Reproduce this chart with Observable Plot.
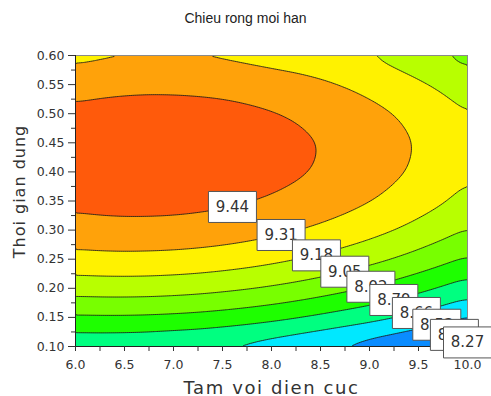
<!DOCTYPE html>
<html>
<head>
<meta charset="utf-8">
<script src="https://cdn.jsdelivr.net/npm/d3@7"></script>
<script src="https://cdn.jsdelivr.net/npm/@observablehq/plot@0.6"></script>
<style>
  body { margin: 0; background: #fff; }
  #title { width: 491px; height: 30px; box-sizing: border-box; padding-top: 10px; text-align: center;
           font: 14px "Liberation Sans", Arial, sans-serif; line-height: 16px; color: #222; }
</style>
</head>
<body>
<div id="title">Chieu rong moi han</div>
<div id="chart"></div>
<script>
// Grid columns (Tam voi dien cuc) and rows (Thoi gian dung)
const xGrid = [6.00, 6.25, 6.50, 6.75, 7.00, 7.25, 7.50, 7.75, 8.00, 8.25, 8.50, 8.75, 9.00, 9.25, 9.50, 9.75, 10.00];
const yGrid = [0.10, 0.15, 0.20, 0.25, 0.30, 0.35, 0.40, 0.45, 0.50, 0.55, 0.60];

// Chieu rong moi han values, one row per yGrid value
const z010 = [8.681, 8.683, 8.680, 8.674, 8.660, 8.649, 8.631, 8.609, 8.583, 8.555, 8.525, 8.491, 8.455, 8.421, 8.383, 8.335, 8.250];
const z015 = [8.905, 8.908, 8.908, 8.904, 8.896, 8.885, 8.869, 8.850, 8.827, 8.799, 8.768, 8.736, 8.705, 8.667, 8.626, 8.580, 8.531];
const z020 = [9.107, 9.112, 9.113, 9.111, 9.104, 9.094, 9.079, 9.061, 9.039, 9.014, 8.984, 8.950, 8.913, 8.872, 8.826, 8.777, 8.725];
const z025 = [9.269, 9.276, 9.278, 9.276, 9.271, 9.262, 9.249, 9.232, 9.211, 9.186, 9.158, 9.125, 9.089, 9.049, 9.005, 8.957, 8.906];
const z030 = [9.391, 9.398, 9.402, 9.401, 9.397, 9.389, 9.377, 9.361, 9.341, 9.318, 9.290, 9.259, 9.224, 9.185, 9.142, 9.096, 9.045];
const z035 = [9.472, 9.481, 9.485, 9.485, 9.482, 9.475, 9.464, 9.449, 9.430, 9.408, 9.381, 9.351, 9.317, 9.279, 9.237, 9.192, 9.142];
const z040 = [9.513, 9.522, 9.527, 9.529, 9.526, 9.520, 9.510, 9.496, 9.478, 9.457, 9.431, 9.402, 9.369, 9.332, 9.291, 9.246, 9.198];
const z045 = [9.513, 9.523, 9.529, 9.531, 9.530, 9.524, 9.515, 9.502, 9.485, 9.464, 9.439, 9.411, 9.379, 9.343, 9.303, 9.259, 9.211];
const z050 = [9.472, 9.483, 9.490, 9.493, 9.492, 9.487, 9.479, 9.466, 9.450, 9.430, 9.406, 9.379, 9.347, 9.312, 9.273, 9.230, 9.183];
const z055 = [9.391, 9.402, 9.410, 9.414, 9.413, 9.409, 9.402, 9.390, 9.374, 9.355, 9.332, 9.305, 9.274, 9.239, 9.201, 9.158, 9.112];
const z060 = [9.269, 9.281, 9.289, 9.294, 9.294, 9.291, 9.283, 9.272, 9.257, 9.245, 9.228, 9.201, 9.171, 9.137, 9.093, 9.045, 9.000];
const zRows = [z010, z015, z020, z025, z030, z035, z040, z045, z050, z055, z060];

// Contour levels (as labelled) and band colours (lowest band first)
const levels = [9.44, 9.31, 9.18, 9.05, 8.92, 8.79, 8.66, 8.53, 8.40, 8.27];
const levelLabels = ["9.44", "9.31", "9.18", "9.05", "8.92", "8.79", "8.66", "8.53", "8.40", "8.27"];
const bandColors = ["#0030ff", "#0058ff", "#0a8cff", "#00e8ff", "#00ff80", "#1eff00", "#78ff00", "#b8ff00", "#fff200", "#ffa20a", "#ff5a0b"];

// Tick values
const xMajor = [6.0, 6.5, 7.0, 7.5, 8.0, 8.5, 9.0, 9.5, 10.0];
const xMinor = [6.25, 6.75, 7.25, 7.75, 8.25, 8.75, 9.25, 9.75];
const yMajor = [0.10, 0.15, 0.20, 0.25, 0.30, 0.35, 0.40, 0.45, 0.50, 0.55, 0.60];
const yMinor = [0.125, 0.175, 0.225, 0.275, 0.325, 0.375, 0.425, 0.475, 0.525, 0.575];

// Guide along which the level labels sit (data units)
const labelPath = {from: [7.3, 0.369], to: [10.0, 0.107]};

const nx = xGrid.length, ny = yGrid.length;
const stepX = xGrid[1] - xGrid[0], stepY = yGrid[1] - yGrid[0];
const levelsAsc = [...levels].sort(d3.ascending);

// Table of grid samples built from the arrays above
const samples = yGrid.flatMap((y, j) => xGrid.map((x, i) => ({x, y, value: zRows[j][i]})));

function sample(x, y) {
  const fx = Math.max(0, Math.min(nx - 1.000001, (x - xGrid[0]) / stepX));
  const fy = Math.max(0, Math.min(ny - 1.000001, (y - yGrid[0]) / stepY));
  const i = Math.floor(fx), j = Math.floor(fy), u = fx - i, v = fy - j;
  const a = zRows[j][i], b = zRows[j][i + 1], c = zRows[j + 1][i], d = zRows[j + 1][i + 1];
  return (a * (1 - u) + b * u) * (1 - v) + (c * (1 - u) + d * u) * v;
}
function pathPoint(t) {
  return [labelPath.from[0] + t * (labelPath.to[0] - labelPath.from[0]),
          labelPath.from[1] + t * (labelPath.to[1] - labelPath.from[1])];
}
const labelAnchors = levels.map((lv, k) => {
  const n = 1000;
  let tHit = 1;
  let prev = sample(...pathPoint(0)) - lv;
  for (let s = 1; s <= n; ++s) {
    const t = s / n;
    const cur = sample(...pathPoint(t)) - lv;
    if ((prev >= 0 && cur < 0) || (prev <= 0 && cur > 0)) { tHit = t - (1 / n) * cur / (cur - prev); break; }
    prev = cur;
  }
  const [x, y] = pathPoint(tHit);
  return {x, y, text: levelLabels[k]};
});

const boxSymbol = {
  draw(ctx) { ctx.moveTo(-24, -15.5); ctx.lineTo(24, -15.5); ctx.lineTo(24, 15.5); ctx.lineTo(-24, 15.5); ctx.closePath(); }
};

const labelMarks = labelAnchors.flatMap(d => [
  Plot.dot([d], {x: "x", y: "y", symbol: boxSymbol, r: 5, fill: "white", stroke: "#555", strokeWidth: 1}),
  Plot.text([d], {x: "x", y: "y", text: "text", fontSize: 15, fontFamily: "DejaVu Sans", fill: "#333"})
]);

const chart = Plot.plot({
  width: 491,
  height: 366,
  marginTop: 25,
  marginBottom: 50,
  marginLeft: 75,
  marginRight: 24,
  x: {domain: [6, 10]},
  y: {domain: [0.1, 0.6]},
  color: {type: "threshold", domain: levelsAsc, range: bandColors},
  style: {fontFamily: "DejaVu Sans", fontSize: "12.5px", color: "#333", background: "white", overflow: "visible"},
  marks: [
    Plot.frame({fill: bandColors[0]}),
    Plot.contour(samples, {
      x: "x", y: "y", fill: "value",
      interpolate: "barycentric", pixelSize: 2, blur: 4,
      thresholds: levelsAsc,
      stroke: "#1a1a1a", strokeWidth: 0.85, clip: true
    }),
    Plot.frame({stroke: "#8a8a8a"}),
    Plot.ruleX([6], {stroke: "#222"}),
    Plot.ruleY([0.1], {stroke: "#222"}),
    Plot.axisX({ticks: xMajor, tickFormat: d3.format(".1f"), tickSize: 5, tickPadding: 9, label: null}),
    Plot.axisX({ticks: xMinor, tickFormat: () => "", tickSize: 5, label: null}),
    Plot.axisY({ticks: yMajor, tickFormat: d3.format(".2f"), tickSize: 7, tickPadding: 4, label: null}),
    Plot.axisY({ticks: yMinor, tickFormat: () => "", tickSize: 4, label: null}),
    Plot.text(["Tam voi dien cuc"], {frameAnchor: "bottom", lineAnchor: "bottom", dy: 47, fontSize: 18, fontFamily: "DejaVu Sans", fill: "#333", text: d => d}),
    Plot.text(["Thoi gian dung"], {frameAnchor: "left", textAnchor: "middle", rotate: -90, dx: -56, dy: -9.5, fontSize: 16, fontFamily: "DejaVu Sans", fill: "#333", text: d => d}),
    ...labelMarks
  ]
});
chart.querySelectorAll('g[aria-label="text"]').forEach(g => {
  if (g.textContent === "Tam voi dien cuc") g.setAttribute("letter-spacing", "1.6");
  if (g.textContent === "Thoi gian dung") g.setAttribute("letter-spacing", "1");
});
document.getElementById("chart").appendChild(chart);
</script>
</body>
</html>
